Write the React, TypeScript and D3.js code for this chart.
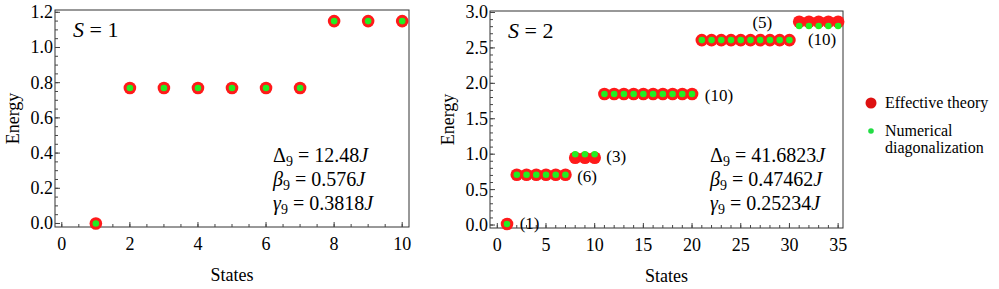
import React from "react";
import * as d3 from "d3";

// S = 1 panel
const s1States = [1, 2, 3, 4, 5, 6, 7, 8, 9, 10];
const s1Effective = [0.0, 0.77, 0.77, 0.77, 0.77, 0.77, 0.77, 1.15, 1.15, 1.15];
const s1Numerical = [0.0, 0.77, 0.77, 0.77, 0.77, 0.77, 0.77, 1.15, 1.15, 1.15];
const s1Params = [
  { sym: "Δ", italic: false, value: "12.48" },
  { sym: "β", italic: true, value: "0.576" },
  { sym: "γ", italic: true, value: "0.3818" },
];

// S = 2 panel
const s2States = [
  1, 2, 3, 4, 5, 6, 7, 8, 9, 10, 11, 12, 13, 14, 15, 16, 17, 18, 19, 20, 21,
  22, 23, 24, 25, 26, 27, 28, 29, 30, 31, 32, 33, 34, 35,
];
const s2Effective = [
  0.015, 0.71, 0.71, 0.71, 0.71, 0.71, 0.71, 0.95, 0.95, 0.95, 1.85, 1.85,
  1.85, 1.85, 1.85, 1.85, 1.85, 1.85, 1.85, 1.85, 2.61, 2.61, 2.61, 2.61, 2.61,
  2.61, 2.61, 2.61, 2.61, 2.61, 2.87, 2.87, 2.87, 2.87, 2.87,
];
const s2Numerical = [
  0.015, 0.71, 0.71, 0.71, 0.71, 0.71, 0.71, 1.0, 1.0, 1.0, 1.85, 1.85, 1.85,
  1.85, 1.85, 1.85, 1.85, 1.85, 1.85, 1.85, 2.61, 2.61, 2.61, 2.61, 2.61, 2.61,
  2.61, 2.61, 2.61, 2.61, 2.81, 2.81, 2.81, 2.81, 2.81,
];
const s2Params = [
  { sym: "Δ", italic: false, value: "41.6823" },
  { sym: "β", italic: true, value: "0.47462" },
  { sym: "γ", italic: true, value: "0.25234" },
];
const s2Degeneracy = [
  { text: "(1)", state: 2.3, energy: 0.03 },
  { text: "(6)", state: 8.2, energy: 0.69 },
  { text: "(3)", state: 11.2, energy: 0.97 },
  { text: "(10)", state: 21.3, energy: 1.83 },
  { text: "(10)", state: 31.9, energy: 2.62 },
  { text: "(5)", state: 26.2, energy: 2.87 },
];

const legendItems = ["Effective theory", "Numerical|diagonalization"];

const FONT = "Liberation Serif";
const RED = "#ff1a1a";
const GREEN = "#22ee22";

type PanelProps = {
  box: { x0: number; x1: number; y0: number; y1: number };
  xDomain: [number, number];
  yDomain: [number, number];
  xMajor: number[];
  xMinor: number[];
  yMajor: number[];
  yMinor: number[];
  states: number[];
  effective: number[];
  numerical: number[];
  spin: string;
  params: { sym: string; italic: boolean; value: string }[];
  paramX: number;
  degeneracy: { text: string; state: number; energy: number }[];
};

function range(a: number, b: number, step: number) {
  return d3.range(a, b + step / 2, step).map((v) => +v.toFixed(4));
}

function Panel(p: PanelProps) {
  const x = d3.scaleLinear().domain(p.xDomain).range([p.box.x0, p.box.x1]);
  const y = d3.scaleLinear().domain(p.yDomain).range([p.box.y1, p.box.y0]);
  const fmtY = d3.format(".1f");
  const midX = (p.box.x0 + p.box.x1) / 2;
  const midY = (p.box.y0 + p.box.y1) / 2;
  return (
    <g>
      <rect
        x={p.box.x0}
        y={p.box.y0}
        width={p.box.x1 - p.box.x0}
        height={p.box.y1 - p.box.y0}
        fill="none"
        stroke="#333"
        strokeWidth={1}
      />
      {p.xMinor.map((t) => (
        <line key={"xm" + t} x1={x(t)} x2={x(t)} y1={p.box.y1} y2={p.box.y1 - 3} stroke="#444" />
      ))}
      {p.yMinor.map((t) => (
        <line key={"ym" + t} x1={p.box.x0} x2={p.box.x0 + 3} y1={y(t)} y2={y(t)} stroke="#444" />
      ))}
      {p.xMajor.map((t) => (
        <line key={"xM" + t} x1={x(t)} x2={x(t)} y1={p.box.y1} y2={p.box.y1 - 5} stroke="#444" />
      ))}
      {p.yMajor.map((t) => (
        <line key={"yM" + t} x1={p.box.x0} x2={p.box.x0 + 5} y1={y(t)} y2={y(t)} stroke="#444" />
      ))}
      {p.states.map((s, i) => (
        <circle key={"r" + i} cx={x(s)} cy={y(p.effective[i])} r={6.3} fill={RED} />
      ))}
      {p.states.map((s, i) => (
        <circle key={"g" + i} cx={x(s)} cy={y(p.numerical[i])} r={3.3} fill={GREEN} />
      ))}
      {p.xMajor.map((t) => (
        <text key={"xl" + t} x={x(t)} y={p.box.y1 + 23} textAnchor="middle" fontSize={18} fontFamily={FONT}>
          {String(t)}
        </text>
      ))}
      {p.yMajor.map((t) => (
        <text key={"yl" + t} x={p.box.x0 - 2} y={y(t) + 6} textAnchor="end" fontSize={18} fontFamily={FONT}>
          {fmtY(t)}
        </text>
      ))}
      <text
        transform={`translate(${p.box.x0 - 36},${midY}) rotate(-90)`}
        textAnchor="middle"
        fontSize={18}
        fontFamily={FONT}
      >
        Energy
      </text>
      <text x={midX} y={p.box.y1 + 54} textAnchor="middle" fontSize={18} fontFamily={FONT}>
        States
      </text>
      {p.degeneracy.map((d, i) => (
        <text key={"d" + i} x={x(d.state)} y={y(d.energy) + 6} fontSize={17} fontFamily={FONT}>
          {d.text}
        </text>
      ))}
      <text x={p.box.x0 + 18} y={p.box.y0 + 27} fontSize={22} fontFamily={FONT}>
        <tspan fontStyle="italic">S</tspan>
        <tspan>{" = " + p.spin}</tspan>
      </text>
      {p.params.map((q, i) => (
        <text key={"p" + i} x={p.paramX} y={162 + i * 24} fontSize={20} fontFamily={FONT}>
          <tspan fontStyle={q.italic ? "italic" : "normal"}>{q.sym}</tspan>
          <tspan fontSize={14} dy="4">9</tspan>
          <tspan dy="-4">{" = " + q.value}</tspan>
          <tspan fontStyle="italic">J</tspan>
        </text>
      ))}
    </g>
  );
}

export default function App() {
  return (
    <svg
      width={999}
      height={289}
      fontFamily={FONT}
      style={{ position: "absolute", left: 0, top: 0, background: "#fff" }}
    >
      <Panel
        box={{ x0: 55, x1: 409, y0: 10, y1: 227 }}
        xDomain={[-0.2, 10.2]}
        yDomain={[-0.02, 1.213]}
        xMajor={range(0, 10, 2)}
        xMinor={range(0, 10, 0.5)}
        yMajor={range(0, 1.2, 0.2)}
        yMinor={range(0, 1.2, 0.05)}
        states={s1States}
        effective={s1Effective}
        numerical={s1Numerical}
        spin="1"
        params={s1Params}
        paramX={273}
        degeneracy={[]}
      />
      <Panel
        box={{ x0: 490, x1: 843, y0: 11, y1: 228 }}
        xDomain={[-0.75, 35.5]}
        yDomain={[-0.042, 3.021]}
        xMajor={range(0, 35, 5)}
        xMinor={range(0, 35, 1)}
        yMajor={range(0, 3, 0.5)}
        yMinor={range(0, 3, 0.1)}
        states={s2States}
        effective={s2Effective}
        numerical={s2Numerical}
        spin="2"
        params={s2Params}
        paramX={710}
        degeneracy={s2Degeneracy}
      />
      <circle cx={871} cy={103} r={5.5} fill="#dd1111" />
      <text x={885} y={108} fontSize={16} fontFamily={FONT}>
        {legendItems[0]}
      </text>
      <circle cx={871} cy={131} r={2.8} fill="#22dd44" />
      {legendItems[1].split("|").map((line, i) => (
        <text key={line} x={885} y={136 + i * 17} fontSize={16} fontFamily={FONT}>
          {line}
        </text>
      ))}
    </svg>
  );
}
